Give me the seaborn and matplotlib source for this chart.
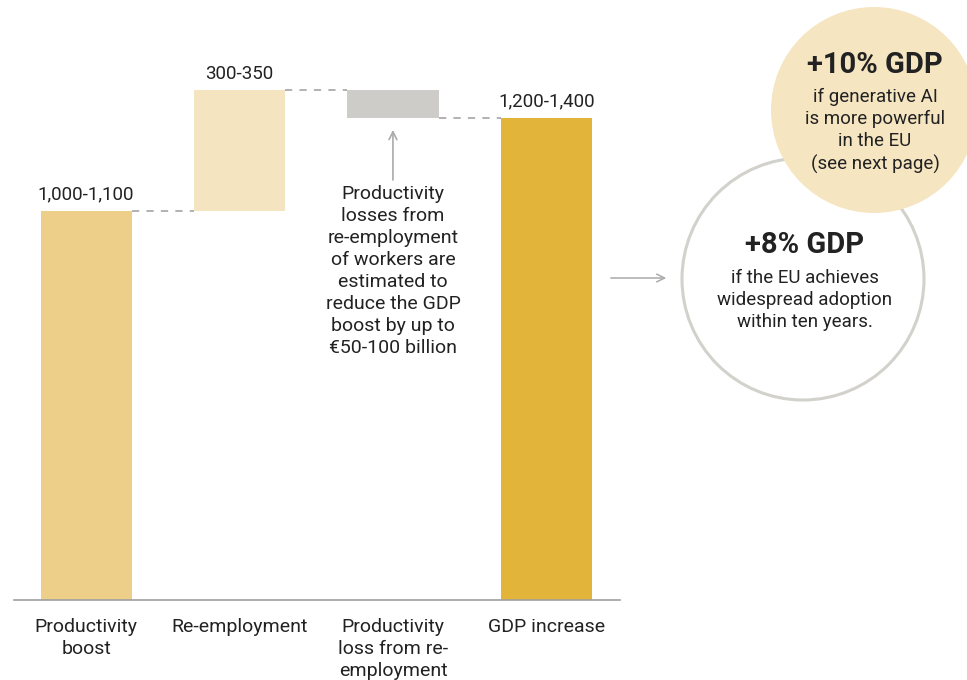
import matplotlib
matplotlib.use("Agg")
import matplotlib.pyplot as plt
from matplotlib.patches import Circle, FancyArrowPatch
import numpy as np
import pandas as pd
import seaborn as sns

# Waterfall data (EUR billion, midpoints of the stated ranges)
categories = ["Productivity\nboost", "Re-employment",
              "Productivity\nloss from re-\nemployment", "GDP increase"]
steps = [1050, 325, -75, 1300]
step_kind = ["start", "delta", "delta", "total"]
value_labels = ["1,000-1,100", "300-350", "", "1,200-1,400"]
bar_colors = ["#EDCF8A", "#F5E4C0", "#CDCCC8", "#E2B53A"]

note_text = ("Productivity\nlosses from\nre-employment\nof workers are\n"
             "estimated to\nreduce the GDP\nboost by up to\n€50-100 billion")
big_circle_title = "+8% GDP"
big_circle_text = "if the EU achieves\nwidespread adoption\nwithin ten years."
small_circle_title = "+10% GDP"
small_circle_text = "if generative AI\nis more powerful\nin the EU\n(see next page)"

# Bar extents
bottoms, tops = [], []
running = 0
for v, k in zip(steps, step_kind):
    if k in ("start", "total"):
        lo, hi = 0, v
        running = v
    else:
        new = running + v
        lo, hi = min(running, new), max(running, new)
        running = new
    bottoms.append(lo)
    tops.append(hi)

df = pd.DataFrame({"category": categories, "top": tops, "bottom": bottoms})

sns.set_theme(style="white")
plt.rcParams["font.family"] = ["Roboto", "DejaVu Sans"]
TXT = "#222222"
FS = 14

fig = plt.figure(figsize=(9.67, 6.80), dpi=100)
ax = fig.add_axes([14 / 967, 80 / 680, 606 / 967, 560 / 680])

bar_w = 0.594
sns.barplot(data=df, x="category", y="top", hue="category",
            palette=bar_colors, width=bar_w, dodge=False, legend=False,
            saturation=1, ax=ax, linewidth=0)

# Place each bar between its bottom and top
for p in ax.patches:
    i = int(round(p.get_x() + p.get_width() / 2))
    p.set_y(df["bottom"][i])
    p.set_height(df["top"][i] - df["bottom"][i])
    p.set_edgecolor("none")

ax.set_xlim(-0.47, 3.48)
ax.set_ylim(0, 1510)

# Dashed connectors between consecutive bars
levels = [tops[0], tops[1], tops[3]]
for i, lvl in enumerate(levels):
    ax.plot([i + bar_w / 2, i + 1 - bar_w / 2], [lvl, lvl],
            color="#ABABAB", lw=1.3, ls=(0, (4, 4)), zorder=1)

# Value labels
for i, lab in enumerate(value_labels):
    if lab:
        ax.text(i, tops[i] + 20, lab, ha="center", va="bottom",
                fontsize=13.5, color=TXT)

# Annotation for the loss bar
ax.annotate("", xy=(2, bottoms[2] - 25), xytext=(2, bottoms[2] - 175),
            arrowprops=dict(arrowstyle="->", color="#AAAAAA", lw=1.2,
                            mutation_scale=14))
ax.text(2, bottoms[2] - 180, note_text, ha="center", va="top",
        fontsize=FS, color=TXT, linespacing=1.29)

# Axes styling
for s in ["top", "right", "left"]:
    ax.spines[s].set_visible(False)
ax.spines["bottom"].set_color("#A0A0A0")
ax.spines["bottom"].set_linewidth(1.2)
ax.set_yticks([])
ax.set_xlabel("")
ax.set_ylabel("")
ax.tick_params(axis="x", length=0, pad=13, labelsize=FS, labelcolor=TXT)
for t in ax.get_xticklabels():
    t.set_linespacing(1.27)
    t.set_verticalalignment("top")

# Overlay axes in pixel coordinates for the circles
ov = fig.add_axes([0, 0, 1, 1])
ov.set_xlim(0, 967)
ov.set_ylim(680, 0)
ov.axis("off")

ov.add_patch(Circle((803, 279), 121, facecolor="white", edgecolor="#D2D1CC",
                    lw=2.2, zorder=1))
ov.add_patch(Circle((874, 110), 103, facecolor="#F5E5C1", edgecolor="none",
                    zorder=2))

ov.add_patch(FancyArrowPatch((608, 278), (669, 278), arrowstyle="->",
                             color="#AAAAAA", lw=1.1, mutation_scale=14))

ov.text(805, 245, big_circle_title, ha="center", va="center",
        fontsize=21, fontweight="bold", color=TXT, zorder=3)
ov.text(805, 300, big_circle_text, ha="center", va="center",
        fontsize=13.5, color=TXT, linespacing=1.3, zorder=3)
ov.text(875, 65, small_circle_title, ha="center", va="center",
        fontsize=21, fontweight="bold", color=TXT, zorder=3)
ov.text(875, 131, small_circle_text, ha="center", va="center",
        fontsize=13.5, color=TXT, linespacing=1.3, zorder=3)

fig.savefig("out.png", dpi=100)
